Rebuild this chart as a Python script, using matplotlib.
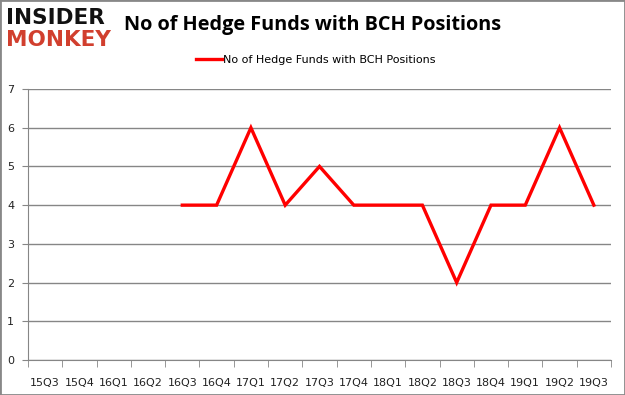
import matplotlib
matplotlib.use("Agg")
import matplotlib.pyplot as plt
import numpy as np

quarters = ["15Q3", "15Q4", "16Q1", "16Q2", "16Q3", "16Q4", "17Q1", "17Q2", "17Q3",
            "17Q4", "18Q1", "18Q2", "18Q3", "18Q4", "19Q1", "19Q2", "19Q3"]
values = [np.nan, np.nan, np.nan, np.nan, 4, 4, 6, 4, 5, 4, 4, 4, 2, 4, 4, 6, 4]
series_name = "No of Hedge Funds with BCH Positions"
title = "No of Hedge Funds with BCH Positions"

fig = plt.figure(figsize=(6.25, 3.95), dpi=100)
fig.patch.set_facecolor("white")
ax = fig.add_axes([28/625, 1-360/395, (611-28)/625, (360-89)/395])

x = np.arange(len(quarters)) + 0.5
ax.plot(x, values, color="#ff0000", lw=2.4, solid_joinstyle="miter", label=series_name)
ax.set_xlim(0, len(quarters))
ax.set_ylim(0, 7)
ax.set_yticks(range(0, 8))
ax.set_xticks(x)
ax.set_xticklabels(quarters)
ax.set_xticks(np.arange(len(quarters) + 1), minor=True)
ax.tick_params(axis="x", which="major", length=0, pad=13, labelsize=8, labelcolor="#222222")
ax.tick_params(axis="x", which="minor", length=5, color="#868686")
ax.tick_params(axis="y", length=4, color="#868686", labelsize=8, pad=6, labelcolor="#222222")
ax.grid(axis="y", color="#868686", lw=1)
ax.set_axisbelow(True)
for s in ["top", "right"]:
    ax.spines[s].set_visible(False)
for s in ["left", "bottom"]:
    ax.spines[s].set_color("#868686")

fig.text(0.5, 0.937, title, ha="center", va="center", fontsize=14.3,
         fontweight="bold", family="Open Sans")
leg = fig.legend(loc="center", bbox_to_anchor=(0.505, 0.848), frameon=False,
                 fontsize=8, handlelength=2.3, handletextpad=0.1)

fig.text(0.01, 0.954, "INSIDER", fontsize=15.5, fontweight="heavy", family="DejaVu Sans",
         color="#111111", va="center", ha="left")
fig.text(0.01, 0.899, "MONKEY", fontsize=15.5, fontweight="heavy", family="DejaVu Sans",
         color="#d13f2e", va="center", ha="left")

border = plt.Rectangle((0, 0), 1, 1, transform=fig.transFigure, fill=False,
                       ec="#888888", lw=2)
fig.patches.append(border)
fig.savefig("out.png", dpi=100)
